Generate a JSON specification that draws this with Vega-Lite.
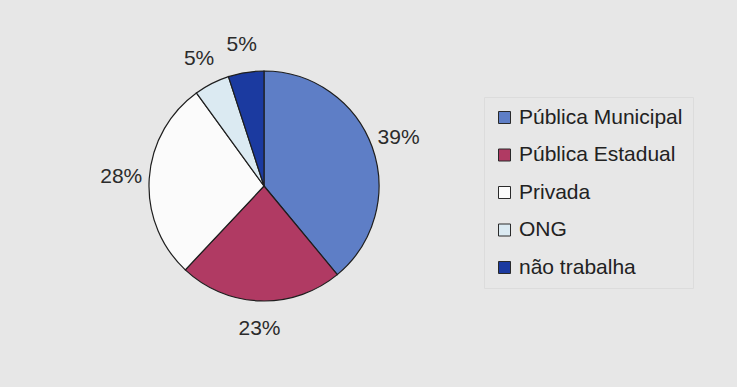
{
  "$schema": "https://vega.github.io/schema/vega-lite/v6.json",
  "width": 230,
  "height": 230,
  "autosize": {"type": "none"},
  "padding": {"left": 149, "top": 71, "right": 358, "bottom": 86},
  "background": "#e7e7e7",
  "config": {"view": {"stroke": null}, "font": "Liberation Sans"},
  "data": {
    "values": [
      {"tipo": "Pública Municipal", "pct": 39, "ord": 1, "label": "39%"},
      {"tipo": "Pública Estadual", "pct": 23, "ord": 2, "label": "23%"},
      {"tipo": "Privada", "pct": 28, "ord": 3, "label": "28%"},
      {"tipo": "ONG", "pct": 5, "ord": 4, "label": "5%"},
      {"tipo": "não trabalha", "pct": 5, "ord": 5, "label": "5%"}
    ]
  },
  "encoding": {
    "theta": {"field": "pct", "type": "quantitative", "stack": true},
    "order": {"field": "ord", "type": "quantitative"}
  },
  "layer": [
    {
      "mark": {"type": "arc", "stroke": "#1e1e1e", "strokeWidth": 1.2},
      "encoding": {
        "color": {
          "field": "tipo",
          "type": "nominal",
          "scale": {
            "domain": ["Pública Municipal", "Pública Estadual", "Privada", "ONG", "não trabalha"],
            "range": ["#5e7ec6", "#b03a63", "#fbfbfb", "#dbeaf2", "#1b3aa0"]
          },
          "legend": {
            "title": null,
            "orient": "none",
            "legendX": 335,
            "legendY": 26,
            "symbolType": "square",
            "symbolSize": 144,
            "symbolStrokeColor": "#2a2a2a",
            "symbolStrokeWidth": 1,
            "symbolOpacity": 1,
            "labelFontSize": 21,
            "labelFont": "Liberation Sans",
            "labelColor": "#222222",
            "labelOffset": 4,
            "labelLimit": 300,
            "rowPadding": 15.5,
            "padding": 10,
            "strokeColor": "#dcdcdc"
          }
        }
      }
    },
    {
      "mark": {"type": "text", "radius": 143, "fontSize": 21, "color": "#2b2b2b", "font": "Liberation Sans"},
      "encoding": {"text": {"field": "label", "type": "nominal"}}
    }
  ]
}
